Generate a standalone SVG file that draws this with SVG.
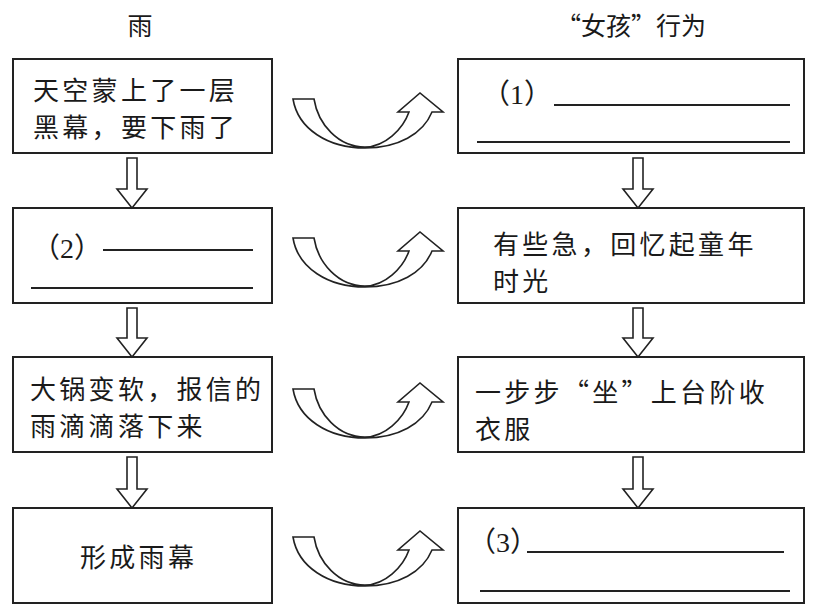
<svg xmlns="http://www.w3.org/2000/svg" width="814" height="610" viewBox="0 0 814 610">
<style>
.box{fill:#fff;stroke:#222;stroke-width:2}
.t{font-family:"Noto Sans CJK SC","Noto Sans CJK JP",sans-serif;font-size:26px;fill:#1a1a1a;letter-spacing:3.3px}
.n{font-family:"Liberation Serif","Noto Sans CJK SC",serif;font-size:28px;fill:#1a1a1a}
.h{font-family:"Noto Sans CJK SC","Noto Sans CJK JP",sans-serif;font-size:25px;fill:#1a1a1a}
.ln{stroke:#222;stroke-width:2}
.ar{fill:#fff;stroke:#222;stroke-width:1.6;stroke-linejoin:miter}
</style>
<defs>
<path id="curl" class="ar" d="M0,0 L21,0 C25,25 45,48 72,48 C92,48 110,30 116,13 L105,13 L127,-6 L150,13 L139,13 C130,35 105,49 72,49 C35,49 5,30 0,0 Z"/>
</defs>
<g id="headers">
<text class="h" x="140" y="35" text-anchor="middle">雨</text>
<text class="h" x="556" y="35">“女孩”行为</text>
</g>
<g id="rain1">
<rect class="box" x="13" y="59" width="259" height="94"/>
<text class="t" x="33" y="100">天空蒙上了一层</text>
<text class="t" x="33" y="137">黑幕，要下雨了</text>
</g>
<g id="rain2">
<rect class="box" x="13" y="208" width="259" height="95"/>
<text class="n" x="32" y="258">（2）</text>
<line class="ln" x1="103" y1="250" x2="253" y2="250"/>
<line class="ln" x1="31" y1="288" x2="253" y2="288"/>
</g>
<g id="rain3">
<rect class="box" x="13" y="357" width="259" height="95"/>
<text class="t" x="30" y="399">大锅变软，报信的</text>
<text class="t" x="30" y="436">雨滴滴落下来</text>
</g>
<g id="rain4">
<rect class="box" x="13" y="508" width="259" height="95"/>
<text class="t" x="80" y="567">形成雨幕</text>
</g>
<g id="girl1">
<rect class="box" x="458" y="59" width="346" height="94"/>
<text class="n" x="482" y="104">（1）</text>
<line class="ln" x1="554" y1="105" x2="790" y2="105"/>
<line class="ln" x1="477" y1="142" x2="790" y2="142"/>
</g>
<g id="girl2">
<rect class="box" x="458" y="208" width="346" height="95"/>
<text class="t" x="493" y="254">有些急，回忆起童年</text>
<text class="t" x="493" y="291">时光</text>
</g>
<g id="girl3">
<rect class="box" x="458" y="357" width="346" height="95"/>
<text class="t" x="475" y="402">一步步“坐”上台阶收</text>
<text class="t" x="475" y="439">衣服</text>
</g>
<g id="girl4">
<rect class="box" x="458" y="508" width="346" height="95"/>
<text class="n" x="468" y="552">（3）</text>
<line class="ln" x1="527" y1="552" x2="784" y2="552"/>
<line class="ln" x1="480" y1="591" x2="790" y2="591"/>
</g>
<g id="connectors">
<path class="ar" d="M127,158 L137,158 L137,189 L147,189 L132,208 L117,189 L127,189 Z"/>
<path class="ar" d="M127,308 L137,308 L137,338 L147,338 L132,357 L117,338 L127,338 Z"/>
<path class="ar" d="M127,457 L137,457 L137,489 L147,489 L132,508 L117,489 L127,489 Z"/>
<path class="ar" d="M633,158 L643,158 L643,189 L653,189 L638,208 L623,189 L633,189 Z"/>
<path class="ar" d="M633,308 L643,308 L643,338 L653,338 L638,357 L623,338 L633,338 Z"/>
<path class="ar" d="M633,457 L643,457 L643,489 L653,489 L638,508 L623,489 L633,489 Z"/>
<use href="#curl" x="293" y="99"/>
<use href="#curl" x="293" y="238"/>
<use href="#curl" x="293" y="389"/>
<use href="#curl" x="293" y="537"/>
</g>
</svg>
